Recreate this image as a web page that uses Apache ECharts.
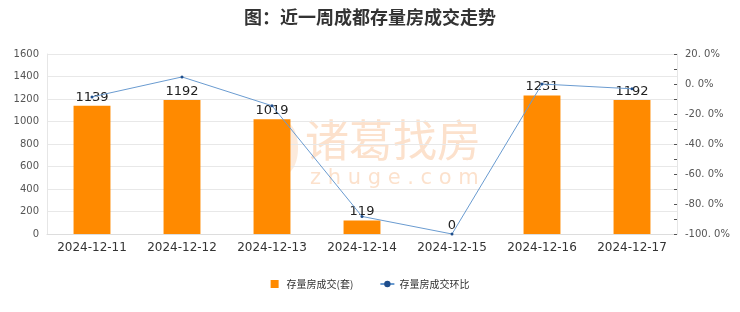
<!DOCTYPE html>
<html><head><meta charset="utf-8">
<script src="https://cdn.jsdelivr.net/npm/echarts@6/dist/echarts.min.js"></script>
<style>html,body{margin:0;padding:0;background:#fff}#c{width:740px;height:312px}</style>
</head><body><div id="c"></div>
<script>
const categories = ['2024-12-11','2024-12-12','2024-12-13','2024-12-14','2024-12-15','2024-12-16','2024-12-17'];
const volume = [1139, 1192, 1019, 119, 0, 1231, 1192];
const ratio = [-8.6, 4.7, -14.5, -88.3, -100, 0, -3.2];
const leftTicks = {min: 0, max: 1600, interval: 200};
const rightTicks = {min: -100, max: 20, interval: 10, labelStep: 20};

const chart = echarts.init(document.getElementById('c'));
chart.setOption({
  animation: false,
  title: {text: '图：近一周成都存量房成交走势', left: 'center', top: 3,
    textStyle: {fontSize: 18, fontWeight: 'bold', color: '#333', fontFamily: 'Noto Sans CJK SC'}},
  graphic: [
    {type: 'text', left: 305, top: 118, z: 0, style: {text: '诸葛找房', fontSize: 44, fill: 'rgba(245,170,110,0.35)', fontFamily: 'Noto Sans CJK SC'}},
    {type: 'text', left: 310, top: 168, z: 0, style: {text: 'z h u g e . c o m', fontSize: 21, fill: 'rgba(245,170,110,0.35)', fontFamily: 'DejaVu Sans'}},
    {type: 'ellipse', shape: {cx: 285, cy: 148, rx: 13, ry: 26}, z: 0, style: {fill: 'rgba(245,170,110,0.25)'}}
  ],
  legend: {bottom: 18, itemWidth: 14, itemHeight: 8, itemGap: 26,
    textStyle: {fontSize: 10, color: '#333', fontFamily: 'Noto Sans CJK SC'},
    data: [{name: '存量房成交(套)', icon: 'path://M0,0h8v8h-8z'}, {name: '存量房成交环比'}]},
  grid: {left: 47, right: 63, top: 54, bottom: 78},
  xAxis: {type: 'category', data: categories,
    axisLine: {lineStyle: {color: '#ddd'}}, axisTick: {show: false},
    axisLabel: {color: '#333', fontSize: 12, margin: 8, interval: 0, fontFamily: 'DejaVu Sans'}},
  yAxis: [
    {type: 'value', min: leftTicks.min, max: leftTicks.max, interval: leftTicks.interval,
      axisLine: {show: true, lineStyle: {color: '#e6e6e6'}}, axisTick: {show: false},
      axisLabel: {color: '#555', fontSize: 10, fontFamily: 'DejaVu Sans', formatter: v => String(v)},
      splitLine: {lineStyle: {color: '#e8e8e8'}}},
    {type: 'value', min: rightTicks.min, max: rightTicks.max, interval: rightTicks.interval,
      axisLine: {show: true, lineStyle: {color: '#e6e6e6'}},
      axisTick: {show: true, inside: true, length: 3, lineStyle: {color: '#555'}},
      axisLabel: {color: '#555', fontSize: 10, fontFamily: 'DejaVu Sans',
        formatter: v => (Math.round(v) % rightTicks.labelStep === 0) ? v.toFixed(1).replace('.', '. ') + '%' : ''},
      splitLine: {show: false}}
  ],
  series: [
    {name: '存量房成交(套)', type: 'bar', data: volume, barWidth: '41%',
      itemStyle: {color: '#ff8a00'},
      label: {show: true, position: 'top', color: '#222', fontSize: 13, distance: 2, fontFamily: 'DejaVu Sans'}},
    {name: '存量房成交环比', type: 'line', yAxisIndex: 1, data: ratio,
      symbol: 'circle', symbolSize: 3, lineStyle: {color: '#6a9bd0', width: 1},
      itemStyle: {color: '#1f4e8c'}}
  ]
});
</script></body></html>
